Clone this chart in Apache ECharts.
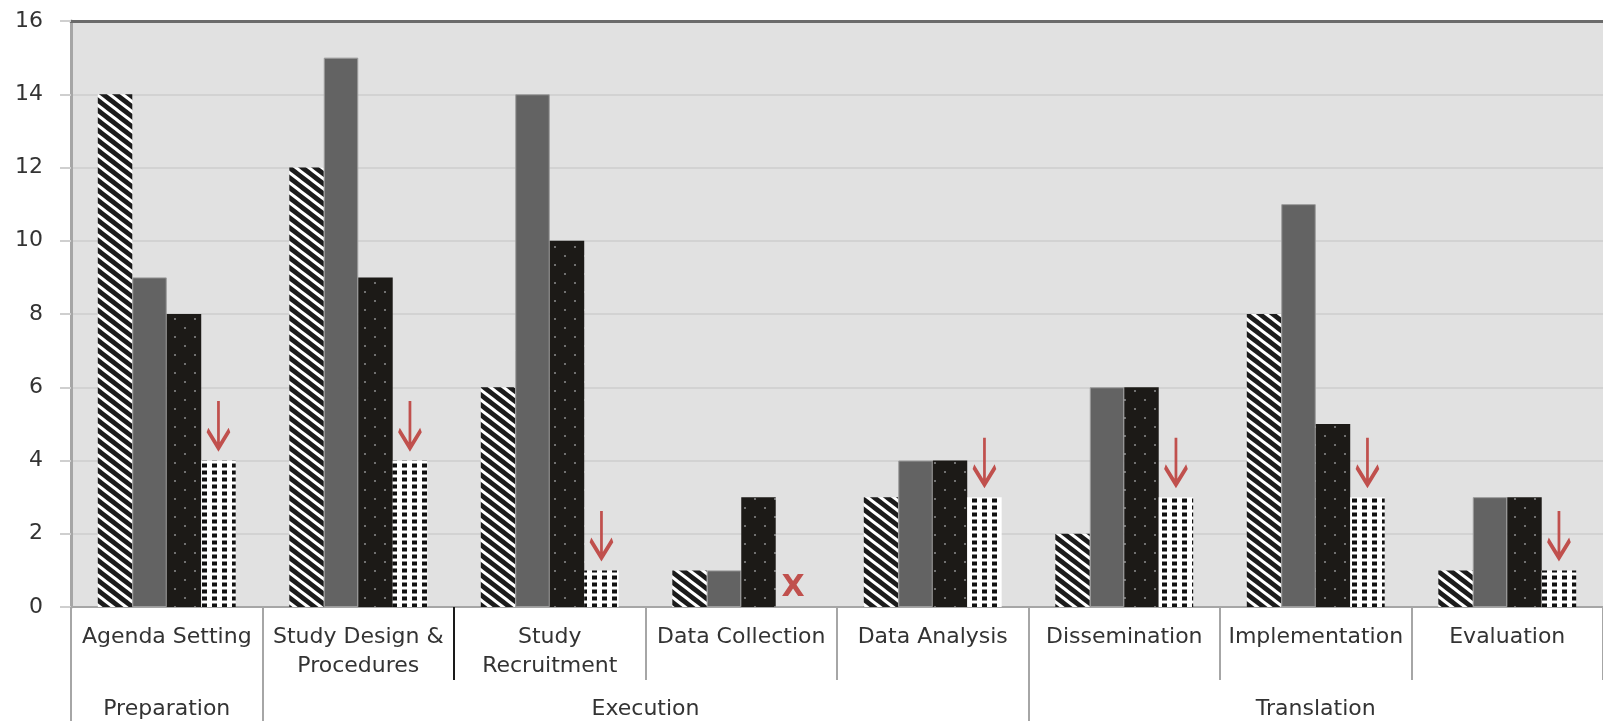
<!DOCTYPE html>
<html>
<head>
<meta charset="utf-8">
<script src="https://cdn.jsdelivr.net/npm/echarts@6/dist/echarts.min.js"></script>
<style>
  html, body { margin: 0; padding: 0; background: #ffffff; }
  #chart { width: 1603px; height: 724px; }
</style>
</head>
<body>
<div id="chart"></div>
<script>
// ---- data ----
const categories = ['Agenda Setting', 'Study Design &\nProcedures', 'Study\nRecruitment', 'Data Collection',
                    'Data Analysis', 'Dissemination', 'Implementation', 'Evaluation'];
const series1 = [14, 12, 6, 1, 3, 2, 8, 1];   // diagonal stripes
const series2 = [9, 15, 14, 1, 4, 6, 11, 3];  // solid gray
const series3 = [8, 9, 10, 3, 4, 6, 5, 3];    // black with dots
const series4 = [4, 4, 1, 0, 3, 3, 3, 1];     // white with black dashes
const arrowMarks = [true, true, true, false, true, true, true, true];
const crossMarks = [false, false, false, true, false, false, false, false];
const groupNames = ['Preparation', 'Execution', 'Translation'];
const groupStarts = [0, 1, 5];
const groupEnds = [1, 5, 8];
const yMin = 0, yMax = 16, yStep = 2;

// ---- patterns ----
function makeTile(w, h, draw) {
  const c = document.createElement('canvas');
  c.width = w; c.height = h;
  draw(c.getContext('2d'), w, h);
  return c;
}
const diagTile = makeTile(13, 10, (ctx, w, h) => {
  ctx.fillStyle = '#1b1b1b'; ctx.fillRect(0, 0, w, h);
  ctx.strokeStyle = '#ffffff'; ctx.lineWidth = 3;
  for (const c of [-10, 0, 10]) {
    ctx.beginPath();
    ctx.moveTo(-2.6, c - 2);
    ctx.lineTo(w + 2.6, c + h + 2);
    ctx.stroke();
  }
});
const dotTile = makeTile(20, 18, (ctx, w, h) => {
  ctx.fillStyle = '#1c1a17'; ctx.fillRect(0, 0, w, h);
  ctx.fillStyle = '#707070';
  ctx.fillRect(4, 3, 2, 2);
  ctx.fillRect(14, 12, 2, 2);
});
const dashTile = makeTile(10, 7, (ctx, w, h) => {
  ctx.fillStyle = '#ffffff'; ctx.fillRect(0, 0, w, h);
  ctx.fillStyle = '#111111';
  ctx.fillRect(2, 1.5, 5, 4);
});

// ---- marks on the 4th series ----
const arrowPath = 'path://M11 0 L11 47 M0 29 L11 47 L22 29';
const markData = [];
series4.forEach((v, i) => {
  if (arrowMarks[i]) {
    markData.push({
      coord: [i, v],
      symbol: arrowPath,
      symbolSize: [22, 47],
      symbolKeepAspect: false,
      symbolOffset: [0, -36],
      itemStyle: { color: 'rgba(0,0,0,0)', borderColor: '#c0504d', borderWidth: 4 },
      label: { show: false }
    });
  }
  if (crossMarks[i]) {
    markData.push({
      coord: [i, v],
      symbol: 'rect',
      symbolSize: 1,
      symbolOffset: [0, -19],
      itemStyle: { color: 'rgba(0,0,0,0)' },
      label: { show: true, position: 'inside', formatter: 'X', color: '#c0504d', fontSize: 30, fontWeight: 'bold', fontFamily: 'DejaVu Sans' }
    });
  }
});

const groupCenters = groupStarts.map((s, i) => (s + groupEnds[i]) / 2);

const chart = echarts.init(document.getElementById('chart'));
const labelFont = { fontFamily: 'DejaVu Sans', fontSize: 22, color: '#333333' };

const option = {
  animation: false,
  textStyle: { fontFamily: 'DejaVu Sans' },
  grid: { left: 71, right: -13, top: 21, bottom: 114, show: true, backgroundColor: '#e1e1e1', borderWidth: 0 },
  xAxis: [
    {
      type: 'category',
      data: categories,
      boundaryGap: true,
      axisLine: { show: true, lineStyle: { color: '#a6a6a6', width: 2 } },
      axisTick: { show: true, interval: 0, length: 73, lineStyle: { color: '#a6a6a6', width: 2 } },
      axisLabel: Object.assign({ interval: 0, margin: 16, lineHeight: 29 }, labelFont),
      splitLine: { show: false }
    },
    {
      type: 'value', min: 0, max: groupEnds[groupEnds.length - 1], position: 'bottom',
      axisLine: { show: false }, splitLine: { show: false },
      axisTick: { show: true, customValues: groupStarts, length: 114, lineStyle: { color: '#a6a6a6', width: 2 } },
      axisLabel: Object.assign({
        customValues: groupCenters, margin: 88, lineHeight: 29,
        formatter: function (v) {
          for (let i = 0; i < groupCenters.length; i++) {
            if (Math.abs(groupCenters[i] - v) < 1e-6) return groupNames[i];
          }
          return '';
        }
      }, labelFont)
    },
    {
      type: 'value', min: 0, max: 8, position: 'bottom',
      axisLine: { show: false }, splitLine: { show: false },
      axisTick: { show: true, customValues: [2], length: 73, lineStyle: { color: '#1a1a1a', width: 2 } },
      axisLabel: { show: false }
    },
    {
      type: 'value', min: 0, max: 8, position: 'top',
      axisLine: { show: true, onZero: false, lineStyle: { color: '#6b6b6b', width: 3 } },
      axisTick: { show: false }, axisLabel: { show: false }, splitLine: { show: false }
    }
  ],
  yAxis: {
    type: 'value', min: yMin, max: yMax, interval: yStep,
    axisLine: { show: true, lineStyle: { color: '#a6a6a6', width: 3 } },
    axisTick: { show: true, length: 11, lineStyle: { color: '#cfcfcf', width: 2 } },
    axisLabel: Object.assign({ margin: 28 }, labelFont),
    splitLine: { show: true, lineStyle: { color: '#d2d2d2', width: 2 } }
  },
  series: [
    { type: 'bar', name: 'Series 1', data: series1, barGap: '0%', barCategoryGap: '28%',
      itemStyle: { color: { image: diagTile, repeat: 'repeat' } } },
    { type: 'bar', name: 'Series 2', data: series2, barGap: '0%', barCategoryGap: '28%',
      itemStyle: { color: '#636363', borderColor: '#9c9c9c', borderWidth: 1 } },
    { type: 'bar', name: 'Series 3', data: series3, barGap: '0%', barCategoryGap: '28%',
      itemStyle: { color: { image: dotTile, repeat: 'repeat' } } },
    { type: 'bar', name: 'Series 4', data: series4, barGap: '0%', barCategoryGap: '28%',
      itemStyle: { color: { image: dashTile, repeat: 'repeat' } },
      markPoint: { silent: true, animation: false, data: markData } }
  ]
};
chart.setOption(option);
</script>
</body>
</html>
